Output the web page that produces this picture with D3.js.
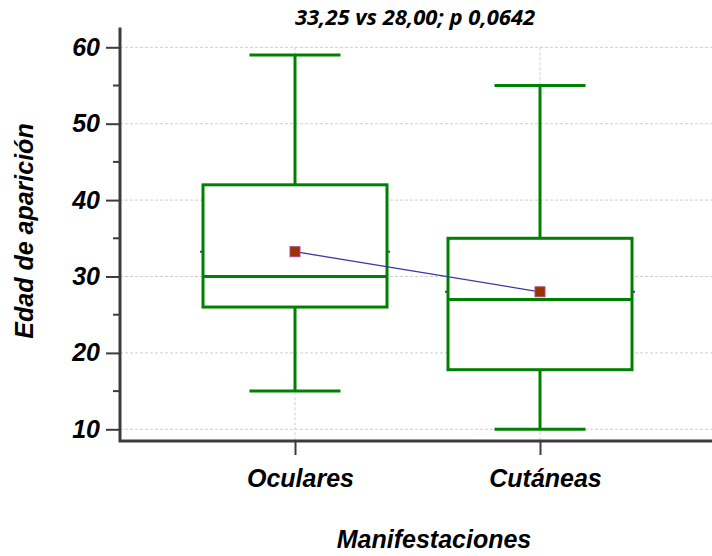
<!DOCTYPE html>
<html>
<head>
<meta charset="utf-8">
<script src="https://cdn.jsdelivr.net/npm/d3@7/dist/d3.min.js"></script>
<style>
  html, body { margin: 0; padding: 0; background: #fff; }
  svg { display: block; }
</style>
</head>
<body>
<svg id="chart" width="712" height="556"></svg>
<script>
// Box-plot summary per group
const categories = ["Oculares", "Cutáneas"];
const whiskerMin = [15, 10];
const q1Values   = [26, 17.8];
const medians    = [30, 27];
const q3Values   = [42, 35];
const whiskerMax = [59, 55];
const means      = [33.25, 28.00];
const yTicks     = [10, 20, 30, 40, 50, 60];
const yMinorTicks = [15, 25, 35, 45, 55];
const titleText  = "33,25 vs 28,00; p 0,0642";

const svg = d3.select("#chart");

const plot = { left: 120, right: 712, top: 27.5, bottom: 441 };

const x = d3.scalePoint().domain(categories).range([295, 540]);
const y = d3.scaleLinear().domain([10, 60]).range([429.3, 47.3]);

const boxHalf = 92;
const capHalf = 45.5;
const green = "#008000";

// grid
const grid = svg.append("g");
grid.selectAll("line.h").data(yTicks).join("line")
  .attr("x1", plot.left).attr("x2", plot.right)
  .attr("y1", d => y(d)).attr("y2", d => y(d))
  .attr("stroke", "#cfcfcf").attr("stroke-width", 1)
  .attr("stroke-dasharray", "3,2");
grid.selectAll("line.v").data(categories).join("line")
  .attr("x1", d => x(d)).attr("x2", d => x(d))
  .attr("y1", y(60)).attr("y2", plot.bottom)
  .attr("stroke", "#cfcfcf").attr("stroke-width", 1)
  .attr("stroke-dasharray", "3,2");

const rows = categories.map((c, i) => ({
  c, lo: whiskerMin[i], q1: q1Values[i], med: medians[i],
  q3: q3Values[i], hi: whiskerMax[i], mean: means[i]
}));

const boxes = svg.append("g");
rows.forEach(r => {
  const cx = x(r.c);
  const g = boxes.append("g");
  // mean level stub, mostly hidden by the box
  g.append("line")
    .attr("x1", cx - boxHalf - 3).attr("x2", cx + boxHalf + 3)
    .attr("y1", y(r.mean)).attr("y2", y(r.mean))
    .attr("stroke", "#3a3a9a").attr("stroke-width", 2);
  // whiskers
  g.append("line").attr("x1", cx).attr("x2", cx)
    .attr("y1", y(r.hi)).attr("y2", y(r.q3))
    .attr("stroke", green).attr("stroke-width", 3);
  g.append("line").attr("x1", cx).attr("x2", cx)
    .attr("y1", y(r.q1)).attr("y2", y(r.lo))
    .attr("stroke", green).attr("stroke-width", 3);
  g.append("line").attr("x1", cx - capHalf).attr("x2", cx + capHalf)
    .attr("y1", y(r.hi)).attr("y2", y(r.hi))
    .attr("stroke", green).attr("stroke-width", 3);
  g.append("line").attr("x1", cx - capHalf).attr("x2", cx + capHalf)
    .attr("y1", y(r.lo)).attr("y2", y(r.lo))
    .attr("stroke", green).attr("stroke-width", 3);
  // box
  g.append("rect")
    .attr("x", cx - boxHalf).attr("width", boxHalf * 2)
    .attr("y", y(r.q3)).attr("height", y(r.q1) - y(r.q3))
    .attr("fill", "#fff").attr("stroke", green).attr("stroke-width", 3);
  // median
  g.append("line").attr("x1", cx - boxHalf).attr("x2", cx + boxHalf)
    .attr("y1", y(r.med)).attr("y2", y(r.med))
    .attr("stroke", green).attr("stroke-width", 3);
});

// line joining the means
svg.append("path")
  .datum(rows)
  .attr("d", d3.line().x(d => x(d.c)).y(d => y(d.mean)))
  .attr("fill", "none").attr("stroke", "#3a3aa0").attr("stroke-width", 1.3);

svg.append("g").selectAll("rect").data(rows).join("rect")
  .attr("x", d => x(d.c) - 5).attr("y", d => y(d.mean) - 5)
  .attr("width", 10).attr("height", 10)
  .attr("fill", "#993300").attr("stroke", "#b04a8a").attr("stroke-width", 1);

// axes
const axisColor = "#3c3c3c";
const yAxis = svg.append("g").attr("transform", `translate(${plot.left},0)`)
  .call(d3.axisLeft(y).tickValues(yTicks).tickSize(14).tickPadding(6).tickFormat(d3.format("d")));
yAxis.select(".domain").remove();
yAxis.selectAll(".tick line").attr("stroke", axisColor).attr("stroke-width", 2);
yAxis.selectAll(".tick text")
  .attr("font-family", "'Liberation Sans', Arial, sans-serif")
  .attr("font-size", 25).attr("font-weight", "bold").attr("font-style", "italic")
  .attr("fill", "#000");

svg.append("g").selectAll("line").data(yMinorTicks).join("line")
  .attr("x1", plot.left - 7).attr("x2", plot.left)
  .attr("y1", d => y(d)).attr("y2", d => y(d))
  .attr("stroke", axisColor).attr("stroke-width", 2);

const xAxis = svg.append("g").attr("transform", `translate(0,${plot.bottom})`)
  .call(d3.axisBottom(x).tickSize(14).tickPadding(14));
xAxis.select(".domain").remove();
xAxis.selectAll(".tick line").attr("stroke", axisColor).attr("stroke-width", 2);
xAxis.selectAll(".tick text")
  .attr("font-family", "'Liberation Sans', Arial, sans-serif")
  .attr("font-size", 25).attr("font-weight", "bold").attr("font-style", "italic")
  .attr("fill", "#000").attr("dx", 5);

svg.append("path")
  .attr("d", `M${plot.left},${plot.top}V${plot.bottom}H${plot.right}`)
  .attr("fill", "none").attr("stroke", axisColor).attr("stroke-width", 3);

// labels
svg.append("text")
  .attr("x", 415).attr("y", 25).attr("text-anchor", "middle")
  .attr("font-family", "'Open Sans', sans-serif")
  .attr("font-size", 22).attr("font-weight", "bold").attr("font-style", "italic")
  .text(titleText);

svg.append("text")
  .attr("transform", "translate(33,231) rotate(-90)")
  .attr("text-anchor", "middle")
  .attr("font-family", "'Liberation Sans', Arial, sans-serif")
  .attr("font-size", 25).attr("font-weight", "bold").attr("font-style", "italic")
  .text("Edad de aparición");

svg.append("text")
  .attr("x", 434).attr("y", 548).attr("text-anchor", "middle")
  .attr("font-family", "'Liberation Sans', Arial, sans-serif")
  .attr("font-size", 25).attr("font-weight", "bold").attr("font-style", "italic")
  .text("Manifestaciones");
</script>
</body>
</html>
